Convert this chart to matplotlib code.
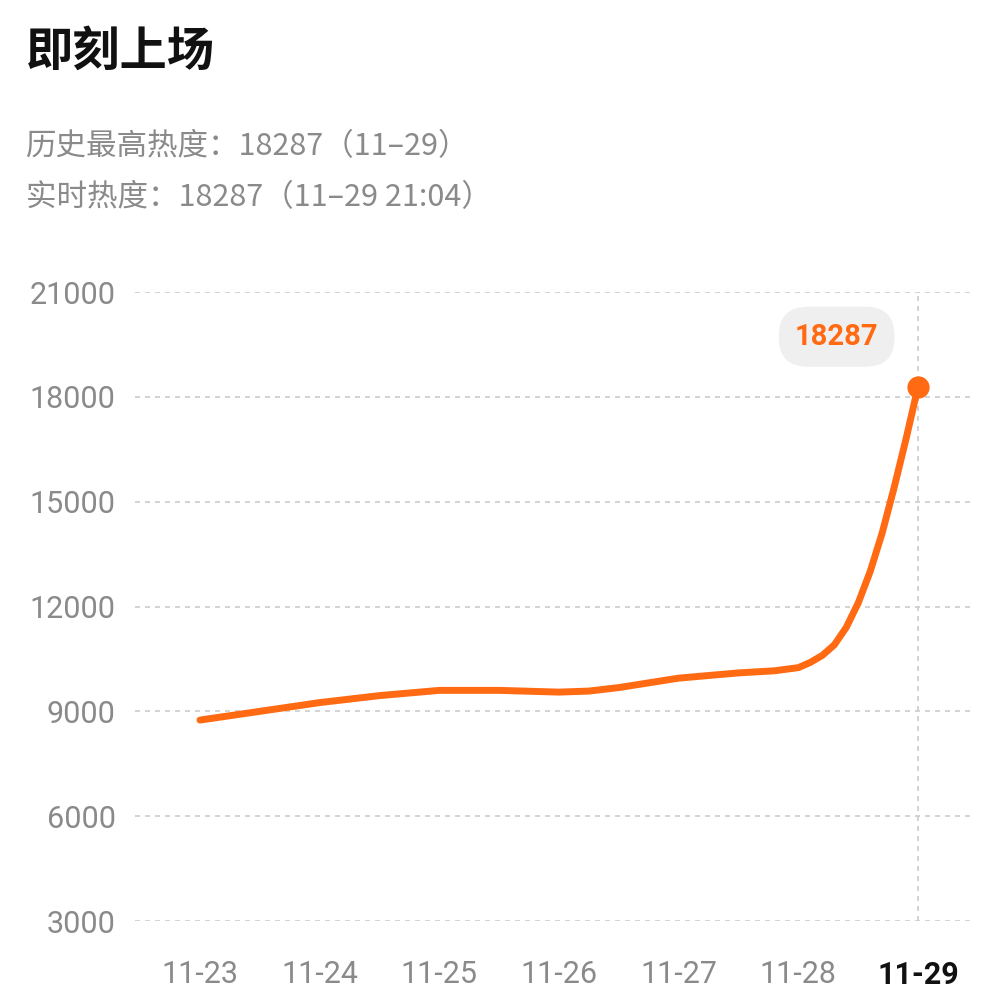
import matplotlib
matplotlib.use("Agg")
import matplotlib.pyplot as plt

plt.rcParams['font.family'] = ['Noto Sans CJK SC', 'DejaVu Sans']

dates = ["11-23", "11-24", "11-25", "11-26", "11-27", "11-28", "11-29"]
xs = [0, 0.5, 1, 1.5, 2, 2.5, 3, 3.25, 3.5, 4, 4.5, 4.8, 5, 5.1, 5.2, 5.3, 5.4, 5.5, 5.6, 5.7, 5.8, 5.9, 6]
vals = [8750, 9000, 9250, 9450, 9600, 9600, 9550, 9580, 9680, 9950, 10100, 10160, 10250, 10400, 10600, 10900, 11400, 12100, 13000, 14100, 15400, 16800, 18287]
yticks = [3000, 6000, 9000, 12000, 15000, 18000, 21000]
peak = 18287

orange = "#FF6A13"
grey = "#8a8a8a"

fig = plt.figure(figsize=(10.08, 9.96), dpi=100)
ax = fig.add_axes([135/1008, 1-921/996, 840/1008, (921-292)/996])
ax.set_xlim(-0.543, 6.476)
ax.set_ylim(3000, 21000)
for y in yticks:
    ax.axhline(y, color="#cccccc", lw=1.2, ls=(0, (3, 3)), zorder=0)
ax.axvline(6, color="#cccccc", lw=1.2, ls=(0, (3, 3)), zorder=0)
ax.plot(xs, vals, color=orange, lw=5, solid_capstyle="round", solid_joinstyle="round")
ax.plot([6], [peak], "o", color=orange, ms=15)
ax.text(5.32, 19720, str(peak), color=orange, fontsize=21, fontweight="bold", ha="center", va="center",
        family="Roboto",
        bbox=dict(boxstyle="round,pad=0.55,rounding_size=1.0", fc="#efefef", ec="none"))
for s in ax.spines.values():
    s.set_visible(False)
ax.set_yticks(yticks)
ax.set_yticklabels([str(y) for y in yticks], fontsize=22, color=grey, family="Roboto")
ax.set_xticks(range(len(dates)))
ax.set_xticklabels(dates, fontsize=22, color=grey, family="Roboto")
ax.get_xticklabels()[-1].set_color("#111111")
ax.get_xticklabels()[-1].set_fontweight("bold")
ax.tick_params(length=0, pad=28)
ax.tick_params(axis="y", pad=14)

fig.text(26/1008, 1-52/996, "即刻上场", fontsize=34, fontweight="bold", color="#111111", va="center")
fig.text(26/1008, 1-147/996, "历史最高热度：18287（11–29）", fontsize=22, color=grey, va="center")
fig.text(26/1008, 1-198/996, "实时热度：18287（11–29 21:04）", fontsize=22, color=grey, va="center")
fig.savefig("out.png", dpi=100)
